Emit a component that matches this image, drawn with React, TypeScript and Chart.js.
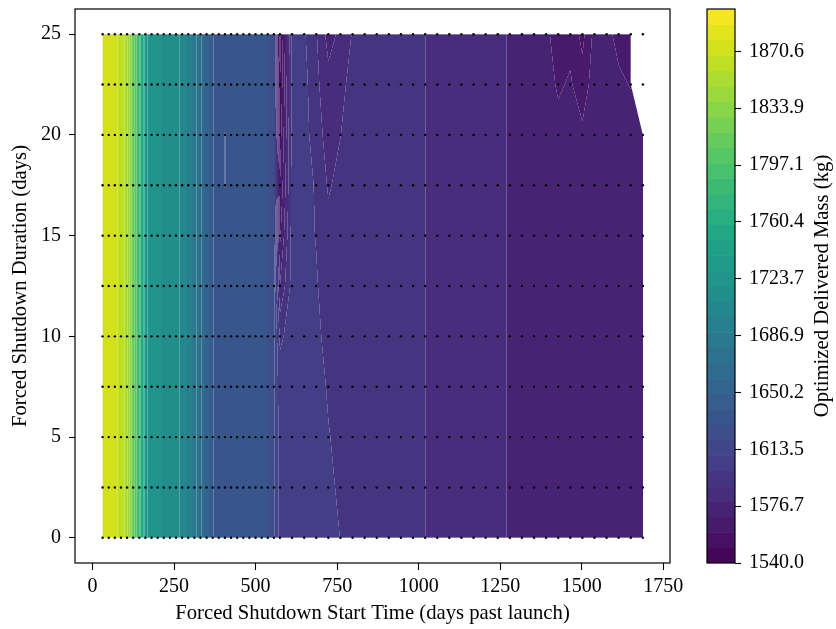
import { useEffect, useRef } from "react";
import { Chart, registerables } from "chart.js";

Chart.register(...registerables);

// Forced shutdown start times (days past launch) sampled by the sweep
const X_GRID = [
  30.7, 49.5, 68.2, 87.0, 105.7, 124.5, 143.3, 162.0, 180.8, 199.5,
  218.3, 237.1, 255.8, 274.6, 293.3, 312.1, 330.9, 349.6, 368.4, 387.1,
  405.9, 424.7, 443.4, 462.2, 480.9, 499.7, 518.5, 537.2, 556.0, 574.7,
  611.8, 648.9, 686.0, 723.1, 760.2, 797.3, 834.4, 871.5, 908.6, 945.7,
  982.8, 1019.9, 1057.0, 1094.1, 1131.2, 1168.4, 1205.5, 1242.6, 1279.7, 1316.8,
  1353.9, 1391.0, 1428.1, 1465.2, 1502.3, 1539.4, 1576.5, 1613.6, 1650.7, 1687.8,
];

// Forced shutdown durations (days)
const Y_GRID = [0, 2.5, 5, 7.5, 10, 12.5, 15, 17.5, 20, 22.5, 25];

// Optimized delivered mass (kg), one row per shutdown duration, one value per start time
const MASS_D00_0 = [
  1870.6, 1870.3, 1869.5, 1866.0, 1852.0, 1818.0, 1780.0, 1732.0, 1724.0, 1721.0,
  1717.5, 1715.0, 1712.0, 1707.0, 1697.0, 1684.0, 1672.0, 1655.0, 1640.0, 1634.0,
  1633.5, 1633.0, 1633.0, 1632.5, 1632.5, 1632.0, 1631.5, 1630.0, 1622.0, 1606.0,
  1604.0, 1603.0, 1602.0, 1601.0, 1599.6, 1597.0, 1596.0, 1595.5, 1595.0, 1594.5,
  1593.5, 1589.8, 1587.0, 1586.0, 1585.5, 1585.0, 1584.0, 1582.0, 1579.0, 1577.5,
  1576.5, 1576.0, 1576.0, 1575.5, 1575.0, 1575.0, 1574.5, 1574.5, 1574.0, 1574.0,
];
const MASS_D02_5 = [
  1870.6, 1870.3, 1869.5, 1866.0, 1852.0, 1818.0, 1780.0, 1732.0, 1724.0, 1721.0,
  1717.5, 1715.0, 1712.0, 1707.0, 1697.0, 1684.0, 1672.0, 1655.0, 1640.0, 1634.0,
  1633.5, 1633.0, 1633.0, 1632.5, 1632.5, 1632.0, 1631.5, 1630.0, 1622.0, 1606.0,
  1604.0, 1603.0, 1602.0, 1600.5, 1599.0, 1597.0, 1596.0, 1595.5, 1595.0, 1594.5,
  1593.5, 1589.8, 1587.0, 1586.0, 1585.5, 1585.0, 1584.0, 1582.0, 1579.0, 1577.5,
  1576.5, 1576.0, 1576.0, 1575.5, 1575.0, 1575.0, 1574.5, 1574.5, 1574.0, 1574.0,
];
const MASS_D05_0 = [
  1870.6, 1870.3, 1869.5, 1866.0, 1852.0, 1818.0, 1780.0, 1732.0, 1724.0, 1721.0,
  1717.5, 1715.0, 1712.0, 1707.0, 1697.0, 1684.0, 1672.0, 1655.0, 1640.0, 1634.0,
  1633.5, 1633.0, 1633.0, 1632.5, 1632.5, 1632.0, 1631.5, 1630.0, 1622.0, 1605.0,
  1604.0, 1603.0, 1602.0, 1599.9, 1598.5, 1597.0, 1596.0, 1595.5, 1595.0, 1594.5,
  1593.5, 1589.8, 1587.0, 1586.0, 1585.5, 1585.0, 1584.0, 1582.0, 1579.0, 1577.5,
  1576.5, 1576.0, 1576.0, 1575.5, 1575.0, 1575.0, 1574.5, 1574.5, 1574.0, 1574.0,
];
const MASS_D07_5 = [
  1870.6, 1870.3, 1869.5, 1866.0, 1852.0, 1818.0, 1780.0, 1732.0, 1724.0, 1721.0,
  1717.5, 1715.0, 1712.0, 1707.0, 1697.0, 1684.0, 1672.0, 1655.0, 1640.0, 1634.0,
  1633.5, 1633.0, 1633.0, 1632.5, 1632.5, 1632.0, 1631.5, 1630.0, 1622.0, 1604.0,
  1604.0, 1603.0, 1601.5, 1599.2, 1598.0, 1597.0, 1596.0, 1595.5, 1595.0, 1594.5,
  1593.5, 1589.8, 1587.0, 1586.0, 1585.5, 1585.0, 1584.0, 1582.0, 1579.0, 1577.5,
  1576.5, 1576.0, 1576.0, 1575.5, 1575.0, 1575.0, 1574.5, 1574.5, 1574.0, 1574.0,
];
const MASS_D10_0 = [
  1870.6, 1870.3, 1869.5, 1866.0, 1852.0, 1818.0, 1780.0, 1732.0, 1724.0, 1721.0,
  1717.5, 1715.0, 1712.0, 1707.0, 1697.0, 1684.0, 1672.0, 1655.0, 1640.0, 1634.0,
  1633.5, 1633.0, 1633.0, 1632.5, 1632.5, 1632.0, 1631.5, 1630.0, 1622.0, 1598.0,
  1603.5, 1602.5, 1600.5, 1598.5, 1597.5, 1597.0, 1596.0, 1595.5, 1595.0, 1594.5,
  1593.5, 1589.8, 1587.0, 1586.0, 1585.5, 1585.0, 1584.0, 1582.0, 1579.0, 1577.5,
  1576.5, 1576.0, 1576.0, 1575.5, 1575.0, 1575.0, 1574.5, 1574.5, 1574.0, 1574.0,
];
const MASS_D12_5 = [
  1870.6, 1870.3, 1869.5, 1866.0, 1852.0, 1818.0, 1780.0, 1732.0, 1724.0, 1721.0,
  1717.5, 1715.0, 1712.0, 1707.0, 1697.0, 1684.0, 1672.0, 1655.0, 1640.0, 1634.0,
  1633.5, 1633.0, 1633.0, 1632.5, 1632.5, 1632.0, 1631.5, 1630.0, 1622.0, 1580.0,
  1603.5, 1602.0, 1600.0, 1597.7, 1597.0, 1596.5, 1596.0, 1595.5, 1595.0, 1594.5,
  1593.5, 1589.8, 1587.0, 1586.0, 1585.5, 1585.0, 1584.0, 1582.0, 1579.0, 1577.5,
  1576.5, 1576.0, 1576.0, 1575.5, 1575.0, 1575.0, 1574.5, 1574.5, 1574.0, 1574.0,
];
const MASS_D15_0 = [
  1870.6, 1870.3, 1869.5, 1866.0, 1852.0, 1818.0, 1780.0, 1732.0, 1724.0, 1721.0,
  1717.5, 1715.0, 1712.0, 1707.0, 1697.0, 1684.0, 1672.0, 1655.0, 1640.0, 1634.0,
  1633.5, 1633.0, 1633.0, 1632.5, 1632.5, 1632.0, 1631.5, 1630.0, 1622.0, 1568.0,
  1603.5, 1601.0, 1599.5, 1593.0, 1596.0, 1597.0, 1596.0, 1595.5, 1595.0, 1594.5,
  1593.5, 1589.8, 1587.0, 1586.0, 1585.5, 1585.0, 1584.0, 1582.0, 1579.0, 1577.5,
  1576.5, 1576.0, 1576.0, 1575.5, 1575.0, 1575.0, 1574.5, 1574.5, 1574.0, 1574.0,
];
const MASS_D17_5 = [
  1870.6, 1870.3, 1869.5, 1866.0, 1852.0, 1818.0, 1780.0, 1732.0, 1724.0, 1721.0,
  1717.5, 1715.0, 1712.0, 1707.0, 1697.0, 1684.0, 1672.0, 1655.0, 1640.0, 1634.0,
  1629.2, 1633.0, 1633.0, 1632.5, 1632.5, 1632.0, 1631.5, 1630.0, 1622.0, 1560.0,
  1603.0, 1601.0, 1599.3, 1588.5, 1593.0, 1597.0, 1596.0, 1595.5, 1595.0, 1594.5,
  1593.5, 1589.8, 1587.0, 1586.0, 1585.5, 1585.0, 1584.0, 1582.0, 1579.0, 1577.5,
  1576.5, 1576.0, 1576.0, 1575.5, 1575.0, 1575.0, 1574.5, 1574.5, 1574.0, 1574.0,
];
const MASS_D20_0 = [
  1870.6, 1870.3, 1869.5, 1866.0, 1852.0, 1818.0, 1780.0, 1732.0, 1724.0, 1721.0,
  1717.5, 1715.0, 1712.0, 1707.0, 1697.0, 1684.0, 1672.0, 1655.0, 1640.0, 1634.0,
  1629.2, 1633.0, 1633.0, 1632.5, 1632.5, 1632.0, 1631.5, 1630.0, 1622.0, 1555.0,
  1603.0, 1603.0, 1595.0, 1585.0, 1589.5, 1596.0, 1596.0, 1595.5, 1595.0, 1594.5,
  1593.5, 1589.8, 1587.0, 1586.0, 1585.5, 1585.0, 1584.0, 1582.0, 1579.0, 1577.5,
  1576.0, 1575.0, 1573.0, 1574.0, 1572.0, 1575.0, 1575.0, 1574.0, 1573.0, 1574.0,
];
const MASS_D22_5 = [
  1870.6, 1870.3, 1869.5, 1866.0, 1852.0, 1818.0, 1780.0, 1732.0, 1724.0, 1721.0,
  1717.5, 1715.0, 1712.0, 1707.0, 1697.0, 1684.0, 1672.0, 1655.0, 1640.0, 1634.0,
  1633.5, 1633.0, 1633.0, 1632.5, 1632.5, 1632.0, 1631.5, 1630.0, 1622.0, 1550.0,
  1603.0, 1603.0, 1592.0, 1583.0, 1587.0, 1593.0, 1596.0, 1595.5, 1595.0, 1594.5,
  1593.5, 1589.8, 1587.0, 1586.0, 1585.5, 1585.0, 1584.0, 1582.0, 1579.0, 1577.5,
  1576.0, 1574.0, 1568.5, 1571.0, 1564.0, 1575.0, 1574.0, 1571.0, 1569.5, NaN,
];
const MASS_D25_0 = [
  1870.6, 1870.3, 1869.5, 1866.0, 1852.0, 1818.0, 1780.0, 1732.0, 1724.0, 1721.0,
  1717.5, 1715.0, 1712.0, 1707.0, 1697.0, 1684.0, 1672.0, 1655.0, 1640.0, 1634.0,
  1633.5, 1633.0, 1633.0, 1632.5, 1632.5, 1632.0, 1631.5, 1630.0, 1622.0, 1546.0,
  1603.0, 1601.0, 1590.5, 1576.0, 1582.0, 1590.5, 1596.0, 1595.5, 1595.0, 1594.5,
  1593.5, 1589.8, 1587.0, 1586.0, 1585.5, 1585.0, 1584.0, 1582.0, 1579.0, 1577.5,
  1576.0, 1572.0, 1565.0, 1567.0, 1557.0, 1573.0, 1571.5, 1568.0, 1566.0, NaN,
];

const MASS_ROWS = [
  MASS_D00_0, MASS_D02_5, MASS_D05_0, MASS_D07_5, MASS_D10_0, MASS_D12_5,
  MASS_D15_0, MASS_D17_5, MASS_D20_0, MASS_D22_5, MASS_D25_0,
];

const X_TICKS = [0, 250, 500, 750, 1000, 1250, 1500, 1750];
const Y_TICKS = [0, 5, 10, 15, 20, 25];
const CB_TICKS = [1540.0, 1576.733, 1613.467, 1650.2, 1686.933, 1723.667, 1760.4, 1797.133, 1833.867, 1870.6];
const CB_TICK_LABELS = ["1540.0", "1576.7", "1613.5", "1650.2", "1686.9", "1723.7", "1760.4", "1797.1", "1833.9", "1870.6"];

// Filled contour levels
const LEVEL_MIN = 1540;
const LEVEL_MAX = 1898;
const LEVEL_BANDS = 36;

const FONT_FAMILY = "'Liberation Serif', 'Times New Roman', serif";
const TICK_SIZE = 20;
const LABEL_SIZE = 20.7;

const VIRIDIS: [number, string][] = [
  [0.0, "#440154"], [0.0625, "#48186a"], [0.1, "#482475"], [0.125, "#472d7b"],
  [0.1875, "#424086"], [0.2, "#414487"], [0.25, "#3b528b"], [0.3, "#355f8d"],
  [0.3125, "#33638d"], [0.375, "#2c728e"], [0.4, "#2a788e"], [0.4375, "#26828e"],
  [0.5, "#21918c"], [0.5625, "#1fa088"], [0.6, "#22a884"], [0.625, "#28ae80"],
  [0.6875, "#3fbc73"], [0.7, "#44bf70"], [0.75, "#5ec962"], [0.8, "#7ad151"],
  [0.8125, "#84d44b"], [0.875, "#addc30"], [0.9, "#bddf26"], [0.9375, "#d8e219"],
  [1.0, "#fde725"],
];

function hexRgb(h: string): number[] {
  return [parseInt(h.slice(1, 3), 16), parseInt(h.slice(3, 5), 16), parseInt(h.slice(5, 7), 16)];
}

function viridis(t: number): number[] {
  const c = Math.max(0, Math.min(1, t));
  for (let k = 0; k < VIRIDIS.length - 1; k++) {
    const [t0, h0] = VIRIDIS[k];
    const [t1, h1] = VIRIDIS[k + 1];
    if (c <= t1) {
      const f = (c - t0) / (t1 - t0);
      const a = hexRgb(h0);
      const b = hexRgb(h1);
      return [a[0] + f * (b[0] - a[0]), a[1] + f * (b[1] - a[1]), a[2] + f * (b[2] - a[2])];
    }
  }
  return hexRgb(VIRIDIS[VIRIDIS.length - 1][1]);
}

const LEVELS = Array.from({ length: LEVEL_BANDS + 1 }, (_, k) => LEVEL_MIN + (k * (LEVEL_MAX - LEVEL_MIN)) / LEVEL_BANDS);
const BAND_RGB = Array.from({ length: LEVEL_BANDS }, (_, k) =>
  viridis(((LEVELS[k] + LEVELS[k + 1]) / 2 - LEVEL_MIN) / (LEVEL_MAX - LEVEL_MIN))
);
const bandCss = (k: number) => {
  const c = BAND_RGB[k];
  return `rgb(${Math.round(c[0])},${Math.round(c[1])},${Math.round(c[2])})`;
};

// ---- marching-squares style band classification inside one grid cell ----
const CORNER_UV = [[0, 0], [1, 0], [1, 1], [0, 1]];

function crossing(i: number, j: number, zs: number[], L: number): number[] {
  const t = (L - zs[i]) / (zs[j] - zs[i]);
  const a = CORNER_UV[i];
  const b = CORNER_UV[j];
  return [a[0] + t * (b[0] - a[0]), a[1] + t * (b[1] - a[1])];
}

function side(p: number[], q: number[], x: number, y: number): number {
  return (q[0] - p[0]) * (y - p[1]) - (q[1] - p[1]) * (x - p[0]);
}

function inCornerTriangle(k: number, zs: number[], L: number, u: number, v: number): boolean {
  const p = crossing(k, (k + 3) % 4, zs, L);
  const q = crossing(k, (k + 1) % 4, zs, L);
  const c = CORNER_UV[k];
  return side(p, q, u, v) * side(p, q, c[0], c[1]) > 0;
}

function aboveLevel(zs: number[], L: number, u: number, v: number): boolean {
  const a = [zs[0] > L, zs[1] > L, zs[2] > L, zs[3] > L];
  const n = (a[0] ? 1 : 0) + (a[1] ? 1 : 0) + (a[2] ? 1 : 0) + (a[3] ? 1 : 0);
  if (n === 0) return false;
  if (n === 4) return true;
  if (n === 1 || n === 3) {
    const odd = n === 1 ? a.indexOf(true) : a.indexOf(false);
    return inCornerTriangle(odd, zs, L, u, v) ? a[odd] : !a[odd];
  }
  if (a[0] === a[2]) {
    const center = (zs[0] + zs[1] + zs[2] + zs[3]) / 4;
    if (center > L) {
      for (let k = 0; k < 4; k++) if (!a[k] && inCornerTriangle(k, zs, L, u, v)) return false;
      return true;
    }
    for (let k = 0; k < 4; k++) if (a[k] && inCornerTriangle(k, zs, L, u, v)) return true;
    return false;
  }
  const pts: number[][] = [];
  for (let k = 0; k < 4; k++) {
    const j = (k + 1) % 4;
    if (a[k] !== a[j]) pts.push(crossing(k, j, zs, L));
  }
  const c = CORNER_UV[a.indexOf(true)];
  return side(pts[0], pts[1], u, v) * side(pts[0], pts[1], c[0], c[1]) >= 0;
}

type Cell = { kind: number; zs: number[]; masked: number; base: number; mStart: number; mEnd: number };

function buildCells(): Cell[] {
  const cells: Cell[] = [];
  for (let j = 0; j < Y_GRID.length - 1; j++) {
    for (let i = 0; i < X_GRID.length - 1; i++) {
      const zs = [MASS_ROWS[j][i], MASS_ROWS[j][i + 1], MASS_ROWS[j + 1][i + 1], MASS_ROWS[j + 1][i]];
      const nanIdx = zs.map((z, k) => (Number.isNaN(z) ? k : -1)).filter((k) => k >= 0);
      if (nanIdx.length >= 2) {
        cells.push({ kind: 0, zs, masked: -1, base: 0, mStart: 0, mEnd: 0 });
      } else if (nanIdx.length === 1) {
        cells.push({ kind: 2, zs, masked: nanIdx[0], base: 0, mStart: 0, mEnd: 0 });
      } else {
        const zmin = Math.min(...zs);
        const zmax = Math.max(...zs);
        let mStart = 0;
        while (mStart < LEVELS.length && LEVELS[mStart] < zmin) mStart++;
        let mEnd = mStart;
        while (mEnd < LEVELS.length && LEVELS[mEnd] < zmax) mEnd++;
        cells.push({ kind: 1, zs, masked: -1, base: mStart, mStart, mEnd });
      }
    }
  }
  return cells;
}

function bandFromValue(z: number): number {
  let c = 0;
  while (c < LEVELS.length && LEVELS[c] < z) c++;
  return Math.min(c - 1, LEVEL_BANDS - 1);
}

function bandInCell(cell: Cell, u: number, v: number): number {
  if (cell.kind === 0) return -1;
  if (cell.kind === 2) {
    const k = cell.masked;
    const p = (k + 3) % 4;
    const n = (k + 1) % 4;
    const o = (k + 2) % 4;
    const P = CORNER_UV[p];
    const N = CORNER_UV[n];
    const K = CORNER_UV[k];
    if (side(P, N, u, v) * side(P, N, K[0], K[1]) > 0) return -1;
    const O = CORNER_UV[o];
    const pu = CORNER_UV[p][1] === O[1] ? p : n;
    const pv = pu === p ? n : p;
    const z =
      cell.zs[o] +
      ((cell.zs[pu] - cell.zs[o]) * (u - O[0])) / (CORNER_UV[pu][0] - O[0]) +
      ((cell.zs[pv] - cell.zs[o]) * (v - O[1])) / (CORNER_UV[pv][1] - O[1]);
    return bandFromValue(z);
  }
  let c = cell.base;
  for (let m = cell.mStart; m < cell.mEnd; m++) if (aboveLevel(cell.zs, LEVELS[m], u, v)) c++;
  return Math.min(c - 1, LEVEL_BANDS - 1);
}

function locate(grid: number[], val: number): number[] | null {
  if (val < grid[0] || val > grid[grid.length - 1]) return null;
  let i = 0;
  while (i < grid.length - 2 && val > grid[i + 1]) i++;
  return [i, (val - grid[i]) / (grid[i + 1] - grid[i])];
}

// Draws the filled contour bands into the plot area, with light antialiasing seams
const contourPlugin = {
  id: "contourFill",
  beforeDatasetsDraw(chart: any) {
    const { ctx, chartArea, scales } = chart;
    const xs = scales.x;
    const ys = scales.y;
    const left = Math.round(chartArea.left);
    const top = Math.round(chartArea.top);
    const w = Math.round(chartArea.right) - left;
    const h = Math.round(chartArea.bottom) - top;
    const S = 3;
    const cells = buildCells();
    const nxCells = X_GRID.length - 1;

    const colCell = new Int32Array(w * S);
    const colU = new Float64Array(w * S);
    for (let sc = 0; sc < w * S; sc++) {
      const loc = locate(X_GRID, xs.getValueForPixel(left + (sc + 0.5) / S));
      colCell[sc] = loc ? loc[0] : -1;
      colU[sc] = loc ? loc[1] : 0;
    }
    const rowCell = new Int32Array(h * S);
    const rowV = new Float64Array(h * S);
    for (let sr = 0; sr < h * S; sr++) {
      const loc = locate(Y_GRID, ys.getValueForPixel(top + (sr + 0.5) / S));
      rowCell[sr] = loc ? loc[0] : -1;
      rowV[sr] = loc ? loc[1] : 0;
    }

    const image = ctx.createImageData(w, h);
    const data = image.data;
    const samples = new Int32Array(S * S);
    const total = S * S;
    for (let py = 0; py < h; py++) {
      for (let px = 0; px < w; px++) {
        let nIn = 0;
        let r = 0;
        let g = 0;
        let b = 0;
        let s = 0;
        for (let sy = 0; sy < S; sy++) {
          const sr = py * S + sy;
          const rj = rowCell[sr];
          for (let sx = 0; sx < S; sx++) {
            const sc = px * S + sx;
            const ci = colCell[sc];
            let band = -1;
            if (rj >= 0 && ci >= 0) band = bandInCell(cells[rj * nxCells + ci], colU[sc], rowV[sr]);
            samples[s++] = band;
            if (band >= 0) {
              nIn++;
              const c = BAND_RGB[band];
              r += c[0];
              g += c[1];
              b += c[2];
            }
          }
        }
        const o = (py * w + px) * 4;
        if (nIn === 0) {
          data[o + 3] = 0;
          continue;
        }
        let same = 0;
        for (let a1 = 0; a1 < total; a1++) {
          if (samples[a1] < 0) continue;
          for (let a2 = 0; a2 < total; a2++) if (samples[a2] === samples[a1]) same++;
        }
        const seam = 0.5 * (1 - same / (nIn * nIn)) * (nIn / total);
        const fOut = 1 - nIn / total;
        let R = r / total + fOut * 255;
        let G = g / total + fOut * 255;
        let B = b / total + fOut * 255;
        R = R * (1 - seam) + 255 * seam;
        G = G * (1 - seam) + 255 * seam;
        B = B * (1 - seam) + 255 * seam;
        data[o] = R;
        data[o + 1] = G;
        data[o + 2] = B;
        data[o + 3] = 255;
      }
    }
    const off = document.createElement("canvas");
    off.width = w;
    off.height = h;
    off.getContext("2d")!.putImageData(image, 0, 0);
    ctx.drawImage(off, left, top);
  },
};

const framePlugin = {
  id: "axesFrame",
  afterDraw(chart: any) {
    const { ctx, chartArea } = chart;
    ctx.save();
    ctx.strokeStyle = "#000";
    ctx.lineWidth = 1.2;
    ctx.strokeRect(chartArea.left, chartArea.top, chartArea.right - chartArea.left, chartArea.bottom - chartArea.top);
    ctx.restore();
  },
};

const colorbarPlugin = {
  id: "colorbarBands",
  beforeDatasetsDraw(chart: any) {
    const { ctx, chartArea, scales } = chart;
    const y = scales.y;
    ctx.save();
    for (let k = 0; k < LEVEL_BANDS; k++) {
      const yTop = y.getPixelForValue(LEVELS[k + 1]);
      const yBot = y.getPixelForValue(LEVELS[k]);
      ctx.fillStyle = bandCss(k);
      ctx.fillRect(chartArea.left, yTop, chartArea.right - chartArea.left, yBot - yTop + (k === 0 ? 0 : 0.6));
    }
    ctx.restore();
  },
  afterDraw(chart: any) {
    const { ctx, chartArea } = chart;
    ctx.save();
    ctx.strokeStyle = "#000";
    ctx.lineWidth = 1.2;
    ctx.strokeRect(chartArea.left, chartArea.top, chartArea.right - chartArea.left, chartArea.bottom - chartArea.top);
    ctx.translate(133, (chartArea.top + chartArea.bottom) / 2);
    ctx.rotate(-Math.PI / 2);
    ctx.fillStyle = "#000";
    ctx.font = `${LABEL_SIZE}px ${FONT_FAMILY}`;
    ctx.textAlign = "center";
    ctx.textBaseline = "middle";
    ctx.fillText("Optimized Delivered Mass (kg)", 0, 0);
    ctx.restore();
  },
};

export default function App() {
  const mainRef = useRef<HTMLCanvasElement>(null);
  const barRef = useRef<HTMLCanvasElement>(null);

  useEffect(() => {
    const points: { x: number; y: number }[] = [];
    for (const yv of Y_GRID) for (const xv of X_GRID) points.push({ x: xv, y: yv });

    const main = new Chart(mainRef.current!, {
      type: "scatter",
      data: {
        datasets: [
          {
            data: points,
            pointRadius: 1.2,
            pointHoverRadius: 1.2,
            pointBackgroundColor: "#000",
            pointBorderWidth: 0,
            backgroundColor: "#000",
            borderWidth: 0,
          },
        ],
      },
      options: {
        responsive: false,
        animation: false,
        devicePixelRatio: 1,
        events: [],
        layout: { padding: { left: 0, top: 9, right: 20, bottom: 0 } },
        plugins: { legend: { display: false }, tooltip: { enabled: false } },
        scales: {
          x: {
            type: "linear",
            position: "bottom",
            min: -54,
            max: 1771,
            afterBuildTicks: (s: any) => {
              s.ticks = X_TICKS.map((v) => ({ value: v }));
            },
            afterFit: (s: any) => {
              s.height = 66;
              s.paddingLeft = 0;
              s.paddingRight = 0;
            },
            grid: { drawOnChartArea: false, drawTicks: true, tickLength: 7, tickColor: "#000", tickWidth: 1.1 },
            border: { display: false },
            ticks: {
              autoSkip: false,
              maxRotation: 0,
              padding: 5,
              color: "#000",
              font: { family: FONT_FAMILY, size: TICK_SIZE },
              callback: (v: any) => String(v),
            },
            title: {
              display: true,
              text: "Forced Shutdown Start Time (days past launch)",
              color: "#000",
              font: { family: FONT_FAMILY, size: LABEL_SIZE },
              padding: { top: 0, bottom: 2.6 },
            },
          },
          y: {
            type: "linear",
            position: "left",
            min: -1.25,
            max: 26.25,
            afterBuildTicks: (s: any) => {
              s.ticks = Y_TICKS.map((v) => ({ value: v }));
            },
            afterFit: (s: any) => {
              s.width = 75;
              s.paddingTop = 0;
              s.paddingBottom = 0;
            },
            grid: { drawOnChartArea: false, drawTicks: true, tickLength: 6, tickColor: "#000", tickWidth: 1.1 },
            border: { display: false },
            ticks: {
              autoSkip: false,
              padding: 8,
              color: "#000",
              font: { family: FONT_FAMILY, size: TICK_SIZE },
              callback: (v: any) => String(v),
            },
            title: {
              display: true,
              text: "Forced Shutdown Duration (days)",
              color: "#000",
              font: { family: FONT_FAMILY, size: LABEL_SIZE },
              padding: { top: 8.6, bottom: 0 },
            },
          },
        },
      },
      plugins: [contourPlugin, framePlugin],
    } as any);

    const bar = new Chart(barRef.current!, {
      type: "scatter",
      data: { datasets: [] },
      options: {
        responsive: false,
        animation: false,
        devicePixelRatio: 1,
        events: [],
        layout: { padding: { left: 17, top: 9, right: 0, bottom: 66 } },
        plugins: { legend: { display: false }, tooltip: { enabled: false } },
        scales: {
          x: { display: false, min: 0, max: 1 },
          y: {
            type: "linear",
            position: "right",
            min: LEVEL_MIN,
            max: LEVEL_MAX,
            afterBuildTicks: (s: any) => {
              s.ticks = CB_TICKS.map((v) => ({ value: v }));
            },
            afterFit: (s: any) => {
              s.width = 101;
              s.paddingTop = 0;
              s.paddingBottom = 0;
            },
            grid: { drawOnChartArea: false, drawTicks: true, tickLength: 6, tickColor: "#000", tickWidth: 1.1 },
            border: { display: false },
            ticks: {
              autoSkip: false,
              padding: 8,
              color: "#000",
              font: { family: FONT_FAMILY, size: TICK_SIZE },
              callback: (_v: any, i: number) => CB_TICK_LABELS[i],
            },
          },
        },
      },
      plugins: [colorbarPlugin],
    } as any);

    return () => {
      main.destroy();
      bar.destroy();
    };
  }, []);

  return (
    <div style={{ position: "fixed", left: 0, top: 0, width: 836, height: 629, background: "#fff" }}>
      <canvas
        ref={mainRef}
        width={690}
        height={629}
        style={{ position: "absolute", left: 0, top: 0, width: 690, height: 629 }}
      />
      <canvas
        ref={barRef}
        width={146}
        height={629}
        style={{ position: "absolute", left: 690, top: 0, width: 146, height: 629 }}
      />
    </div>
  );
}
